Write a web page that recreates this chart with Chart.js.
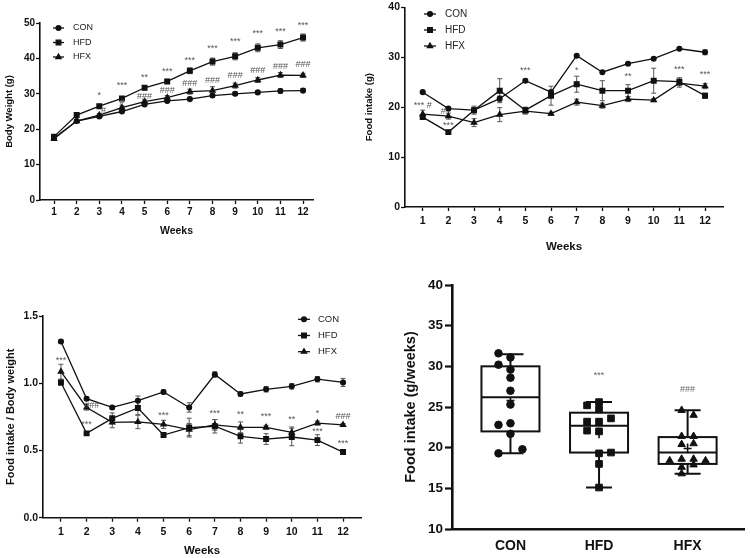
<!DOCTYPE html>
<html>
<head>
<meta charset="utf-8">
<script src="https://cdn.jsdelivr.net/npm/chart.js@4.4.1/dist/chart.umd.min.js"></script>
<style>
  body { margin: 0; background: #fff; width: 750px; height: 558px; position: relative; overflow: hidden; }
  .panel { position: absolute; }
</style>
</head>
<body>
<div class="panel" style="left:0;top:0;width:375px;height:241px"><canvas id="bwChart"></canvas></div>
<div class="panel" style="left:360px;top:0;width:390px;height:258px"><canvas id="intakeChart"></canvas></div>
<div class="panel" style="left:0;top:300px;width:375px;height:258px"><canvas id="ratioChart"></canvas></div>
<div class="panel" style="left:394px;top:270px;width:356px;height:288px"><canvas id="boxChart"></canvas></div>
<script>
// ================= DADOS =================
const weeks = [1, 2, 3, 4, 5, 6, 7, 8, 9, 10, 11, 12];
const groups = ["CON", "HFD", "HFX"];

// body weight (g)
const bwCon    = [17.5, 22.3, 23.6, 25.0, 27.0, 28.0, 28.5, 29.5, 30.0, 30.4, 30.8, 30.9];
const bwConErr = [0.3, 0.3, 0.3, 0.4, 0.4, 0.4, 0.5, 0.5, 0.5, 0.5, 0.6, 0.6];
const bwHfd    = [17.9, 24.0, 26.5, 28.7, 31.7, 33.5, 36.5, 39.1, 40.6, 43.0, 43.9, 45.9];
const bwHfdErr = [0.3, 0.3, 0.4, 0.5, 0.6, 0.6, 0.8, 1.0, 1.0, 1.1, 1.1, 1.0];
const bwHfx    = [17.3, 22.3, 24.0, 26.1, 27.8, 28.9, 30.6, 30.9, 32.3, 33.9, 35.3, 35.2];
const bwHfxErr = [0.3, 0.3, 0.4, 0.5, 0.5, 0.6, 0.7, 1.1, 0.7, 0.7, 0.7, 0.6];
const bwMarks = [
  [3, 29.6, "*"], [4, 32.2, "***"], [5, 34.5, "**"], [6, 36.2, "***"], [7, 39.5, "***"], [8, 42.7, "***"],
  [9, 44.8, "***"], [10, 46.9, "***"], [11, 47.7, "***"], [12, 49.3, "***"],
  [3.18, 25.4, "#"], [4, 27.5, "#"], [5, 29.2, "###"], [6, 30.9, "###"], [7, 32.9, "###"], [8, 33.8, "###"],
  [9, 35.1, "###"], [10, 36.5, "###"], [11, 37.8, "###"], [12, 38.4, "###"]
];

// food intake (g)
const fiCon    = [23.0, 19.7, 19.4, 21.7, 25.3, 23.0, 30.3, 27.0, 28.7, 29.7, 31.7, 31.0];
const fiConErr = [0.2, 0.2, 0.3, 0.5, 0.3, 0.3, 0.2, 0.2, 0.2, 0.2, 0.2, 0.5];
const fiHfd    = [18.0, 15.0, 19.4, 23.3, 19.4, 22.3, 24.6, 23.3, 23.3, 25.3, 25.1, 22.3];
const fiHfdErr = [0.4, 0.3, 0.8, 2.4, 0.6, 1.9, 1.6, 2.0, 1.2, 2.5, 0.8, 0.5];
const fiHfx    = [18.6, 18.2, 16.9, 18.5, 19.2, 18.7, 21.0, 20.3, 21.6, 21.4, 24.8, 24.2];
const fiHfxErr = [0.8, 0.6, 0.8, 1.4, 0.6, 0.3, 0.6, 0.5, 0.5, 0.3, 0.8, 0.5];
const fiMarks = [
  [1, 20.4, "*** #"], [1.8, 19.2, "#"], [2, 16.3, "***"], [5, 27.3, "***"], [7, 27.3, "*"],
  [9, 26.2, "**"], [11, 27.6, "***"], [12, 26.6, "***"]
];

// food intake / body weight
const rCon    = [1.31, 0.885, 0.82, 0.87, 0.935, 0.82, 1.065, 0.92, 0.955, 0.977, 1.03, 1.006];
const rConErr = [0.01, 0.01, 0.01, 0.035, 0.015, 0.035, 0.02, 0.015, 0.02, 0.02, 0.02, 0.03];
const rHfd    = [1.005, 0.627, 0.739, 0.816, 0.615, 0.67, 0.68, 0.605, 0.585, 0.6, 0.577, 0.488];
const rHfdErr = [0.02, 0.01, 0.04, 0.05, 0.01, 0.07, 0.05, 0.05, 0.04, 0.065, 0.04, 0.015];
const rHfx    = [1.086, 0.82, 0.709, 0.712, 0.694, 0.655, 0.69, 0.672, 0.672, 0.635, 0.704, 0.69];
const rHfxErr = [0.055, 0.02, 0.04, 0.05, 0.03, 0.045, 0.04, 0.04, 0.015, 0.04, 0.015, 0.01];
const rMarks = [
  [1, 1.168, "***"], [2.2, 0.838, "###"], [2, 0.69, "***"], [5, 0.76, "***"], [7, 0.776, "***"],
  [8, 0.77, "**"], [9, 0.75, "***"], [10, 0.727, "**"], [11, 0.776, "*"], [11, 0.64, "***"],
  [12, 0.75, "###"], [12, 0.553, "***"]
];

// food intake (g/weeks), individual animals + box stats
const boxCon = [31.6, 31.1, 30.2, 29.6, 28.6, 27.0, 25.3, 22.8, 23.0, 21.7, 19.8, 19.3];
const boxHfd = [25.2, 25.6, 24.7, 23.6, 23.2, 23.2, 22.1, 22.0, 19.3, 19.4, 18.0, 15.1];
const boxHfx = [24.6, 24.0, 21.4, 21.4, 20.4, 20.5, 18.4, 18.6, 18.6, 18.4, 17.6, 17.9, 16.8];
const boxMin = [19.3, 15.1, 16.8];
const boxQ1  = [22.0, 19.4, 18.0];
const boxMed = [26.2, 22.7, 19.4];
const boxQ3  = [30.0, 24.3, 21.3];
const boxMax = [31.5, 25.6, 24.6];
const boxMean = [25.8, 21.8, 19.9];
const boxSem  = [0.3, 0.65, 0.6];
const boxMarks = [[2, 28.85, "***"], [3, 27.2, "###"]];

// jitter columns (layout of the dots inside each box)
const conCols = [-1, 0, -1, 0, 0, 0, 0, -1, 0, 0, 1, -1];
const hfdCols = [-1, 0, 0, 1, -1, 0, -1, 0, 0, 1, 0, 0];
const hfxCols = [-0.5, 0.5, -0.5, 0.5, -0.5, 0.5, -1.5, -0.5, 0.5, 1.5, -0.5, 0.5, -0.5];

// ================= ESTILO =================
const FONT = "'Liberation Sans', Arial, sans-serif";
Chart.defaults.font.family = FONT;
Chart.defaults.color = "#111";
Chart.defaults.animation = false;

const styles = [
  { pointStyle: "circle", radius: 2.4 },
  { pointStyle: "rect", radius: 3.3 },
  { pointStyle: "triangle", radius: 3.0 }
];

// ================= PLUGINS =================
const errorBars = {
  id: "errorBars",
  beforeDatasetsDraw(chart) {
    const { ctx, scales: { x, y } } = chart;
    ctx.save();
    ctx.strokeStyle = "#555";
    ctx.lineWidth = 1;
    chart.data.datasets.forEach(ds => {
      if (!ds.errors) return;
      ds.data.forEach((p, i) => {
        const e = ds.errors[i];
        const px = x.getPixelForValue(p.x);
        const top = y.getPixelForValue(p.y + e), bot = y.getPixelForValue(p.y - e);
        ctx.beginPath();
        ctx.moveTo(px, top); ctx.lineTo(px, bot);
        ctx.moveTo(px - 2.5, top); ctx.lineTo(px + 2.5, top);
        ctx.moveTo(px - 2.5, bot); ctx.lineTo(px + 2.5, bot);
        ctx.stroke();
      });
    });
    ctx.restore();
  }
};

const sigMarks = {
  id: "sigMarks",
  afterDatasetsDraw(chart, args, opts) {
    if (!opts.items) return;
    const { ctx, scales: { x, y } } = chart;
    ctx.save();
    ctx.font = opts.font;
    ctx.fillStyle = opts.color || "#555";
    ctx.textAlign = "center";
    ctx.textBaseline = "middle";
    opts.items.forEach(([vx, vy, t]) => {
      ctx.fillText(t, x.getPixelForValue(vx), y.getPixelForValue(vy));
    });
    ctx.restore();
  }
};

const innerLegend = {
  id: "innerLegend",
  afterDraw(chart, args, opts) {
    if (!opts.x) return;
    const ctx = chart.ctx;
    ctx.save();
    ctx.font = opts.font;
    ctx.textBaseline = "middle";
    chart.data.datasets.forEach((ds, i) => {
      const yy = opts.y + i * opts.gap;
      ctx.strokeStyle = "#111";
      ctx.fillStyle = "#111";
      ctx.lineWidth = 1.3;
      ctx.beginPath();
      ctx.moveTo(opts.x, yy); ctx.lineTo(opts.x + opts.len, yy);
      ctx.stroke();
      Chart.helpers.drawPoint(ctx, {
        pointStyle: ds.pointStyle, radius: ds.pointRadius, borderWidth: 1, rotation: 0
      }, opts.x + opts.len / 2, yy);
      ctx.fillStyle = "#222";
      ctx.fillText(ds.label, opts.textX, yy);
    });
    ctx.restore();
  }
};

// ================= PAINÉIS DE LINHA =================
function linePanel(id, cfg) {
  const series = [
    ["CON", cfg.con, cfg.conErr],
    ["HFD", cfg.hfd, cfg.hfdErr],
    ["HFX", cfg.hfx, cfg.hfxErr]
  ];
  return new Chart(document.getElementById(id), {
    type: "line",
    data: {
      datasets: series.map(([label, vals, errs], i) => ({
        label,
        data: weeks.map((w, k) => ({ x: w, y: vals[k] })),
        errors: errs,
        borderColor: "#111",
        borderWidth: 1.3,
        backgroundColor: "#111",
        pointBackgroundColor: "#111",
        pointBorderColor: "#111",
        pointStyle: styles[i].pointStyle,
        pointRadius: styles[i].radius,
        tension: 0
      }))
    },
    options: {
      responsive: true,
      maintainAspectRatio: false,
      layout: { padding: cfg.padding },
      plugins: {
        legend: { display: false },
        tooltip: { enabled: false },
        sigMarks: { items: cfg.marks, font: "9px " + FONT, color: "#555" },
        innerLegend: cfg.legend
      },
      scales: {
        x: {
          type: "linear",
          min: cfg.xMin, max: cfg.xMax,
          afterBuildTicks: s => { s.ticks = weeks.map(v => ({ value: v })); },
          afterFit: s => { s.height = cfg.xHeight; },
          border: { display: true, color: "#111", width: 1.6 },
          grid: { drawOnChartArea: false, drawTicks: true, tickLength: 4, tickColor: "#111", tickWidth: 1.3 },
          ticks: { autoSkip: false, maxRotation: 0, padding: cfg.xPad, color: "#111",
                   font: { size: cfg.tickSize, weight: "bold" } },
          title: { display: true, text: "Weeks", color: "#111", padding: { top: 0, bottom: cfg.titleBottom },
                   font: { size: cfg.titleSize, weight: "bold" } }
        },
        y: {
          min: cfg.yMin, max: cfg.yMax,
          afterFit: s => { s.width = cfg.yWidth; },
          border: { display: true, color: "#111", width: 1.6 },
          grid: { drawOnChartArea: false, drawTicks: true, tickLength: 4, tickColor: "#111", tickWidth: 1.3 },
          ticks: { stepSize: cfg.yStep, padding: 1, color: "#111",
                   callback: cfg.yFmt || (v => v),
                   font: { size: cfg.tickSize, weight: "bold" } },
          title: { display: true, text: cfg.yTitle, color: "#111", padding: { top: 4, bottom: 0 },
                   font: { size: cfg.yTitleSize, weight: "bold" } }
        }
      }
    },
    plugins: [errorBars, sigMarks, innerLegend]
  });
}

linePanel("bwChart", {
  con: bwCon, conErr: bwConErr, hfd: bwHfd, hfdErr: bwHfdErr, hfx: bwHfx, hfxErr: bwHfxErr,
  marks: bwMarks,
  padding: { top: 23, right: 62, left: 0, bottom: 0 },
  xMin: 0.38, xMax: 12.44, xHeight: 41, xPad: 2,
  yMin: 0, yMax: 50, yStep: 10, yWidth: 40,
  tickSize: 10, titleSize: 10.5, yTitleSize: 9.5, titleBottom: 4,
  yTitle: "Body Weight (g)",
  legend: { x: 53, y: 28, gap: 14.5, len: 11, textX: 73, font: "9px " + FONT }
});

linePanel("intakeChart", {
  con: fiCon, conErr: fiConErr, hfd: fiHfd, hfdErr: fiHfdErr, hfx: fiHfx, hfxErr: fiHfxErr,
  marks: fiMarks,
  padding: { top: 5, right: 27, left: 0, bottom: 0 },
  xMin: 0.31, xMax: 12.7, xHeight: 51, xPad: 3.5,
  yMin: 0, yMax: 40, yStep: 10, yWidth: 45,
  tickSize: 10.5, titleSize: 11.5, yTitleSize: 9.5, titleBottom: 4,
  yTitle: "Food intake (g)",
  legend: { x: 64, y: 14, gap: 16, len: 12, textX: 85, font: "10px " + FONT }
});

linePanel("ratioChart", {
  con: rCon, conErr: rConErr, hfd: rHfd, hfdErr: rHfdErr, hfx: rHfx, hfxErr: rHfxErr,
  marks: rMarks,
  padding: { top: 16, right: 14, left: 0, bottom: 0 },
  xMin: 0.3, xMax: 12.7, xHeight: 40.3, xPad: 3.7,
  yMin: 0, yMax: 1.5, yStep: 0.5, yWidth: 43,
  yFmt: v => v.toFixed(1),
  tickSize: 10.5, titleSize: 11.5, yTitleSize: 11, titleBottom: 0,
  yTitle: "Food intake / Body weight",
  legend: { x: 298, y: 19.3, gap: 16.2, len: 12, textX: 318, font: "9.5px " + FONT }
});

// ================= BOX PLOT =================
const boxDraw = {
  id: "boxDraw",
  beforeDatasetsDraw(chart, args, opts) {
    const { ctx, scales: { x, y } } = chart;
    ctx.save();
    ctx.strokeStyle = "#111";
    ctx.lineWidth = 2;
    groups.forEach((g, i) => {
      const cx = x.getPixelForValue(i + 1);
      const hw = opts.halfWidth, cap = opts.cap;
      const py = v => y.getPixelForValue(v);
      ctx.fillStyle = "#fff";
      ctx.fillRect(cx - hw, py(boxQ3[i]), hw * 2, py(boxQ1[i]) - py(boxQ3[i]));
      ctx.strokeRect(cx - hw, py(boxQ3[i]), hw * 2, py(boxQ1[i]) - py(boxQ3[i]));
      ctx.beginPath();
      ctx.moveTo(cx - hw, py(boxMed[i])); ctx.lineTo(cx + hw, py(boxMed[i]));
      ctx.moveTo(cx, py(boxQ3[i])); ctx.lineTo(cx, py(boxMax[i]));
      ctx.moveTo(cx, py(boxQ1[i])); ctx.lineTo(cx, py(boxMin[i]));
      ctx.moveTo(cx - cap, py(boxMax[i])); ctx.lineTo(cx + cap, py(boxMax[i]));
      ctx.moveTo(cx - cap, py(boxMin[i])); ctx.lineTo(cx + cap, py(boxMin[i]));
      ctx.stroke();
    });
    ctx.restore();
  },
  afterDatasetsDraw(chart, args, opts) {
    const { ctx, scales: { x, y } } = chart;
    ctx.save();
    ctx.strokeStyle = "#111";
    ctx.lineWidth = 1.6;
    groups.forEach((g, i) => {
      const cx = x.getPixelForValue(i + 1);
      const m = y.getPixelForValue(boxMean[i]);
      ctx.beginPath();
      ctx.moveTo(cx - 4, m); ctx.lineTo(cx + 4, m);
      ctx.moveTo(cx, y.getPixelForValue(boxMean[i] + boxSem[i]));
      ctx.lineTo(cx, y.getPixelForValue(boxMean[i] - boxSem[i]));
      ctx.stroke();
    });
    ctx.restore();
  }
};

const jitterStep = 0.135;
const dotRadius = [3.8, 4.7, 4.3];
const dots = [[boxCon, conCols], [boxHfd, hfdCols], [boxHfx, hfxCols]];

new Chart(document.getElementById("boxChart"), {
  type: "scatter",
  data: {
    datasets: dots.map(([vals, cols], i) => ({
      label: groups[i],
      data: vals.map((v, k) => ({ x: i + 1 + cols[k] * jitterStep, y: v })),
      pointStyle: styles[i].pointStyle,
      pointRadius: dotRadius[i],
      pointBackgroundColor: "#111",
      pointBorderColor: "#111",
      pointBorderWidth: 1
    }))
  },
  options: {
    responsive: true,
    maintainAspectRatio: false,
    layout: { padding: { top: 15, right: 5, left: 0, bottom: 0 } },
    plugins: {
      legend: { display: false },
      tooltip: { enabled: false },
      boxDraw: { halfWidth: 29, cap: 13 },
      sigMarks: { items: boxMarks, font: "9px " + FONT, color: "#666" }
    },
    scales: {
      x: {
        type: "linear", min: 0.34, max: 3.64,
        afterBuildTicks: s => { s.ticks = groups.map((g, i) => ({ value: i + 1 })); },
        afterFit: s => { s.height = 29; },
        border: { display: true, color: "#111", width: 2.6 },
        grid: { drawOnChartArea: false, drawTicks: false },
        ticks: { autoSkip: false, maxRotation: 0, padding: 9, color: "#111",
                 callback: v => groups[v - 1],
                 font: { size: 14, weight: "bold" } }
      },
      y: {
        min: 10, max: 40,
        afterFit: s => { s.width = 58; },
        border: { display: true, color: "#111", width: 2.6 },
        grid: { drawOnChartArea: false, drawTicks: true, tickLength: 7, tickColor: "#111", tickWidth: 2.2 },
        ticks: { stepSize: 5, padding: 2, color: "#111", font: { size: 13.5, weight: "bold" } },
        title: { display: true, text: "Food intake (g/weeks)", color: "#111", padding: { top: 8, bottom: 0 },
                 font: { size: 14.5, weight: "bold" } }
      }
    }
  },
  plugins: [boxDraw, sigMarks]
});
</script>
</body>
</html>
